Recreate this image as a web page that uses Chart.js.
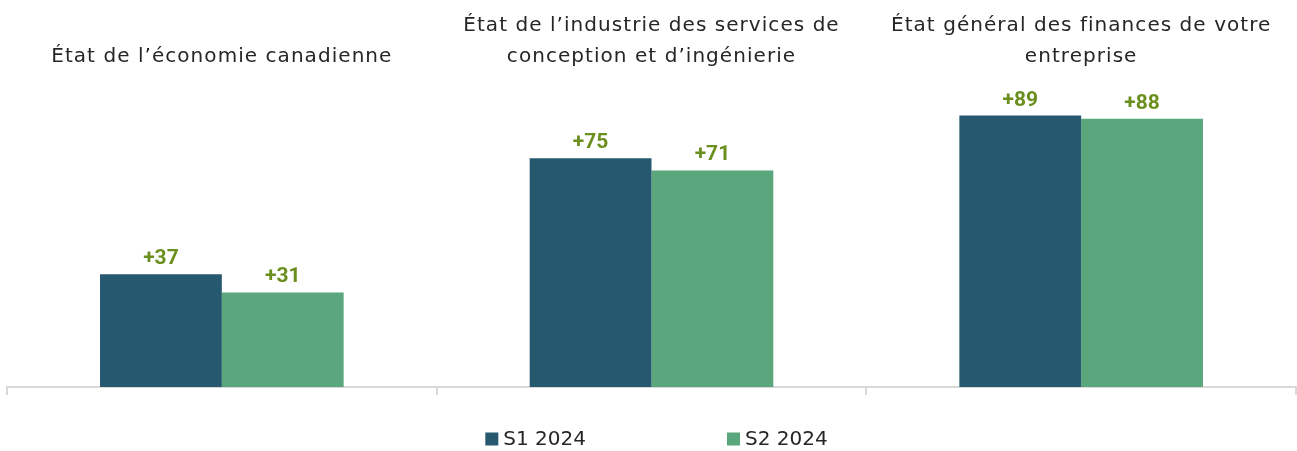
<!DOCTYPE html>
<html lang="fr">
<head>
<meta charset="utf-8">
<title>Perception de la situation</title>
<script src="https://cdn.jsdelivr.net/npm/chart.js@4.4.1/dist/chart.umd.min.js"></script>
<style>
  html, body { margin: 0; padding: 0; background: #ffffff; }
  #wrap { position: relative; width: 1297px; height: 451px; }
</style>
</head>
<body>
<div id="wrap"><canvas id="chart" width="1297" height="451"></canvas></div>
<script>
// Categories, shown as multi-line headings above each group
const categories = [
  ["État de l\u2019économie canadienne"],
  ["État de l\u2019industrie des services de", "conception et d\u2019ingénierie"],
  ["État général des finances de votre", "entreprise"]
];
const seriesNames = ["S1 2024", "S2 2024"];
const s1Values = [37, 75, 89];
const s2Values = [31, 71, 88];

const COLORS = ["#26596f", "#5aa67d"];
const TEXT = "#262626";
const LABEL_GREEN = "#6b8f1f";
const AXIS_GREY = "#d9d9d9";
const FONT = "'DejaVu Sans', sans-serif";

// Wider tracking for the axis headings (scales are drawn before the datasets)
const headingSpacing = {
  id: "headingSpacing",
  beforeDraw(chart) { chart.ctx.letterSpacing = "1.05px"; },
  beforeDatasetsDraw(chart) { chart.ctx.letterSpacing = "0px"; }
};

// Value labels printed above each bar, with an explicit plus sign
const valueLabels = {
  id: "valueLabels",
  afterDatasetsDraw(chart) {
    const ctx = chart.ctx;
    ctx.save();
    ctx.letterSpacing = "0px";
    ctx.font = "bold 21px Roboto, sans-serif";
    ctx.fillStyle = LABEL_GREEN;
    ctx.textAlign = "center";
    ctx.textBaseline = "alphabetic";
    chart.data.datasets.forEach((ds, i) => {
      chart.getDatasetMeta(i).data.forEach((bar, j) => {
        const v = ds.data[j];
        ctx.fillText((v > 0 ? "+" : "") + v, bar.x, bar.y - 10);
      });
    });
    ctx.restore();
  }
};

// Legend row under the axis, built from the dataset names and colours
const bottomLegend = {
  id: "bottomLegend",
  afterDraw(chart) {
    const ctx = chart.ctx;
    ctx.save();
    ctx.letterSpacing = "0px";
    ctx.font = "20px " + FONT;
    ctx.textBaseline = "middle";
    ctx.textAlign = "left";
    const box = 13, gap = 5, spacing = 141, y = 439, shift = 5;
    const widths = chart.data.datasets.map(ds => box + gap + ctx.measureText(ds.label).width);
    const total = widths.reduce((a, b) => a + b, 0) + spacing * (widths.length - 1);
    let x = (chart.chartArea.left + chart.chartArea.right) / 2 - total / 2 + shift;
    chart.data.datasets.forEach((ds, i) => {
      ctx.fillStyle = ds.backgroundColor;
      ctx.fillRect(x, y - box / 2, box, box);
      ctx.fillStyle = TEXT;
      ctx.fillText(ds.label, x + box + gap, y + 1);
      x += widths[i] + spacing;
    });
    ctx.restore();
  }
};

new Chart(document.getElementById("chart"), {
  type: "bar",
  data: {
    labels: categories,
    datasets: [
      { label: seriesNames[0], data: s1Values, backgroundColor: COLORS[0], xAxisID: "x" },
      { label: seriesNames[1], data: s2Values, backgroundColor: COLORS[1], xAxisID: "x" }
    ]
  },
  options: {
    responsive: false,
    animation: false,
    layout: { padding: { left: 7, right: 1, top: 3, bottom: 56 } },
    datasets: {
      bar: { categoryPercentage: 0.567, barPercentage: 1.0, borderWidth: 0 }
    },
    plugins: { legend: { display: false }, tooltip: { enabled: false } },
    scales: {
      x: {
        position: "bottom",
        grid: { offset: true, drawOnChartArea: false, drawTicks: true, tickLength: 8, color: AXIS_GREY, lineWidth: 2 },
        border: { display: true, color: AXIS_GREY, width: 2 },
        ticks: { display: false }
      },
      xTop: {
        type: "category",
        position: "top",
        labels: categories,
        offset: true,
        grid: { display: false, drawTicks: false },
        border: { display: false },
        ticks: { color: TEXT, font: { family: FONT, size: 20, lineHeight: 1.55 }, padding: 7, maxRotation: 0, autoSkip: false }
      },
      y: {
        display: false,
        min: 0,
        max: 101
      }
    }
  },
  plugins: [headingSpacing, valueLabels, bottomLegend]
});
</script>
</body>
</html>
